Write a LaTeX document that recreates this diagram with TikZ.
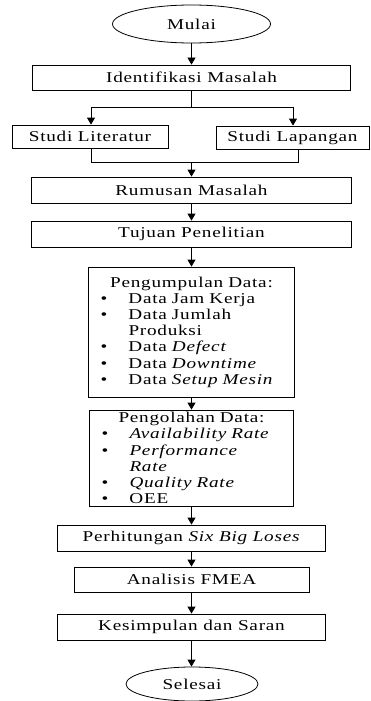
\documentclass[tikz,border=0pt]{standalone}
\usepackage{fontspec}
\setmainfont[FakeStretch=1.28,LetterSpace=5]{Liberation Serif}
\usetikzlibrary{arrows.meta,shapes.geometric}

% bullet item and its continuation line inside the list boxes
\newcommand\bitem[1]{\par\noindent\makebox[32pt][l]{\hspace{4pt}\textbullet}#1}
\newcommand\bcont[1]{\par\noindent\hspace*{32pt}#1}
\newcommand\btitle[1]{\noindent\makebox[\linewidth][c]{#1}}

\tikzset{
  every node/.style={font=\fontsize{15}{16.2}\selectfont},
  box/.style={draw, line width=0.8pt, inner sep=0pt, align=center, minimum height=26pt},
  listbox/.style={draw, line width=0.8pt, inner ysep=0pt, inner xsep=8pt,
                  text width=#1, align=left},
  terminal/.style={draw, ellipse, line width=0.8pt, inner sep=0pt},
  link/.style={line width=0.8pt},
  arr/.style={line width=0.8pt, -{Triangle[length=7pt,width=8pt]}}
}

\begin{document}
\begin{tikzpicture}[x=1pt,y=1pt]
\useasboundingbox (0,0) rectangle (371,-701);

% main column
\node[terminal, minimum width=158pt, minimum height=38pt] (mulai) at (191.5,-24) {Mulai};
\node[box, minimum width=318pt, minimum height=25pt] (ident) at (191.5,-77.5) {Identifikasi Masalah};
\node[box, minimum width=156pt, minimum height=23pt] (lit) at (90,-136.5) {Studi Literatur};
\node[box, minimum width=153pt, minimum height=23pt] (lap) at (292.5,-137.5) {Studi Lapangan};
\node[box, minimum width=320pt] (rumus) at (191.5,-190) {Rumusan Masalah};
\node[box, minimum width=320pt] (tujuan) at (191.5,-234) {Tujuan Penelitian};

\node[listbox=190pt, minimum height=130pt] (kumpul) at (191.5,-332) {%
  \btitle{Pengumpulan Data:}
  \bitem{Data Jam Kerja}
  \bitem{Data Jumlah}
  \bcont{Produksi}
  \bitem{Data \textit{Defect}}
  \bitem{Data \textit{Downtime}}
  \bitem{Data \textit{Setup Mesin}}};

\node[listbox=188pt, minimum height=96pt] (olah) at (191.5,-458) {%
  \btitle{Pengolahan Data:}
  \bitem{\textit{Availability Rate}}
  \bitem{\textit{Performance}}
  \bcont{\textit{Rate}}
  \bitem{\textit{Quality Rate}}
  \bitem{OEE}};

\node[box, minimum width=268pt] (hitung) at (191.5,-538) {Perhitungan \textit{Six Big Loses}};
\node[box, minimum width=235pt, minimum height=25pt] (fmea) at (191.5,-579.5) {Analisis FMEA};
\node[box, minimum width=268pt] (simpul) at (191.5,-627) {Kesimpulan dan Saran};
\node[terminal, minimum width=132pt, minimum height=34pt] (selesai) at (192,-684) {Selesai};

% branching and merging points
\coordinate (splitL) at (91,-107);
\coordinate (splitR) at (293,-107);
\coordinate (joinL) at (91,-162);
\coordinate (joinR) at (298,-162);
\coordinate (joinM) at (191.5,-162);

% connectors
\draw[arr] (mulai) -- (ident);
\draw[link] (ident.south) -- (ident.south |- splitL);
\draw[link] (splitL) -- (splitR);
\draw[arr] (splitL) -- (splitL |- lit.north);
\draw[arr] (splitR) -- (splitR |- lap.north);
\draw[link] (joinL |- lit.south) -- (joinL) -- (joinR) -- (joinR |- lap.south);
\draw[arr] (joinM) -- (rumus.north);
\draw[arr] (rumus) -- (tujuan);
\draw[arr] (tujuan) -- (kumpul);
\draw[arr] (kumpul) -- (olah);
\draw[arr] (olah) -- (hitung);
\draw[arr] (hitung) -- (fmea);
\draw[arr] (fmea) -- (simpul);
\draw[arr] (simpul.south) -- (simpul.south |- selesai.north);
\end{tikzpicture}
\end{document}
